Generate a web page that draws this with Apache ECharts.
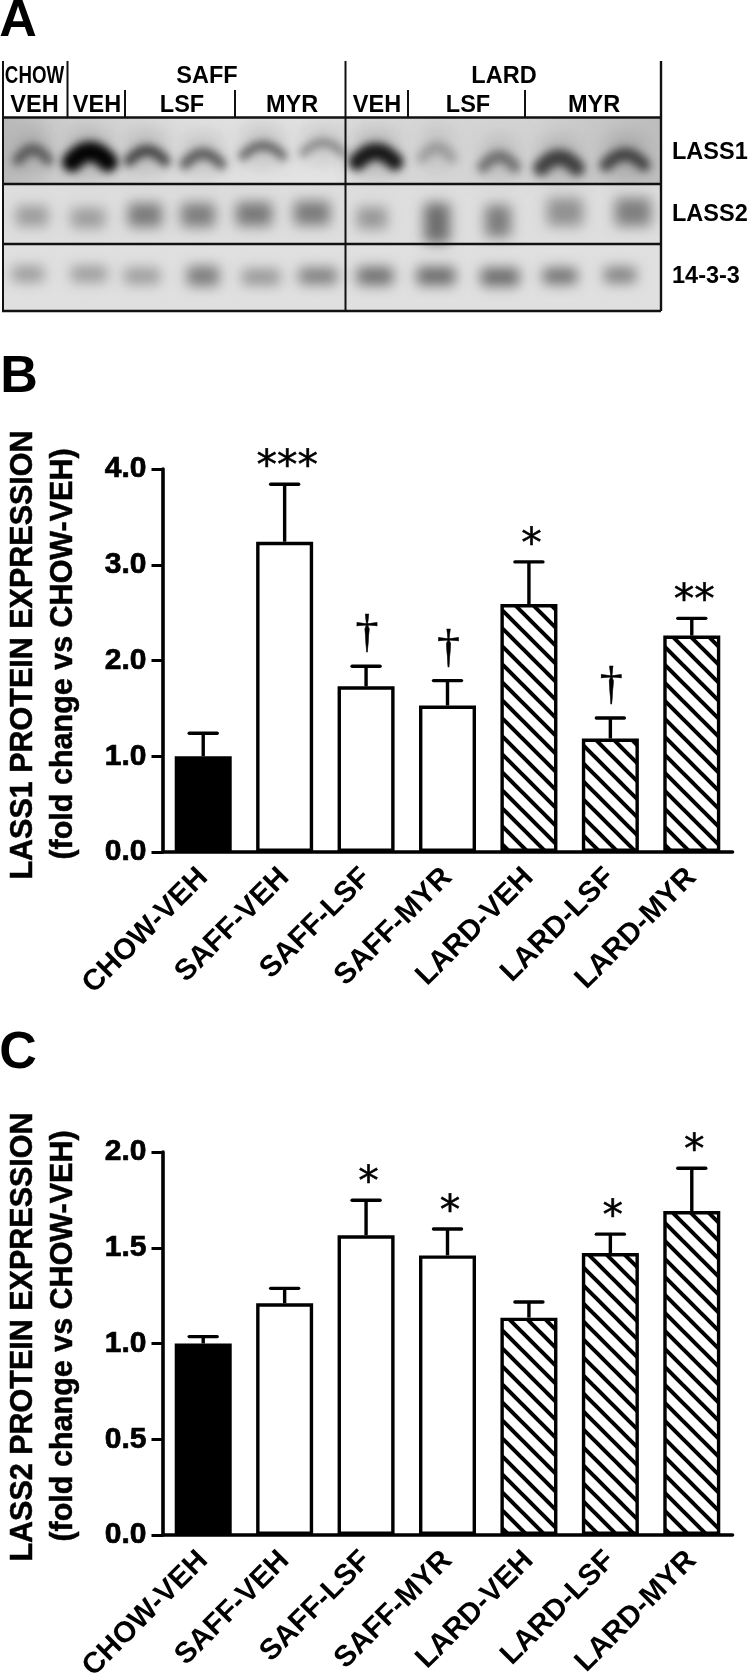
<!DOCTYPE html>
<html>
<head>
<meta charset="utf-8">
<style>html,body{margin:0;padding:0;background:#fff}#c{width:750px;height:1677px}</style>
<script src="https://cdn.jsdelivr.net/npm/echarts@6/dist/echarts.min.js"></script>
</head>
<body>
<div id="c"></div>
<script>
// ---------- chart data ----------
const categories = ['CHOW-VEH','SAFF-VEH','SAFF-LSF','SAFF-MYR','LARD-VEH','LARD-LSF','LARD-MYR'];
const lass1Means = [1.0,3.24,1.73,1.53,2.59,1.185,2.26];
const lass1Upper = [1.24,3.84,1.94,1.79,3.03,1.40,2.44];
const lass1Marks = ['','***','†','†','*','†','**'];
const lass2Means = [1.0,1.21,1.565,1.46,1.135,1.472,1.692];
const lass2Upper = [1.036,1.288,1.748,1.598,1.217,1.571,1.915];
const lass2Marks = ['','','*','*','','*','*'];
const fillKinds = ['solid','open','open','open','hatch','hatch','hatch'];
// band darkness read from the blot, one value per lane
const blotLass1 = [0.50,0.98,0.66,0.55,0.52,0.36,0.88,0.22,0.42,0.66,0.62];
const blotLass2 = [0.27,0.26,0.39,0.38,0.40,0.39,0.28,0.44,0.38,0.30,0.37];
const blot1433  = [0.27,0.27,0.27,0.39,0.29,0.39,0.44,0.46,0.46,0.44,0.37];

// ---------- blot layout (pixel space of the hidden blot grid) ----------
// LASS1 lanes: centre x, centre y, half width, stroke thickness
const L1 = [[33,153,15,11],[90,155,18,20],[147,154,18,11],[203,157,18,11],[263,149,20,9],[323,146,20,8],
            [376,155,19,17],[437,151,15,11],[499,160,16,12],[559,161,18,16],[625,158,19,13]];
// LASS2 and 14-3-3 lanes: centre x, centre y, half width, half height
const L2 = [[32,216,16,10],[88,218,17,10],[145,215,17,12],[198,215,17,12],[254,214,18,12],[312,213,18,12],
            [372,218,15,11],[437,223,13,20],[498,221,13,16],[565,212,18,14],[633,212,18,14]];
const L3 = [[28,274,16,8],[89,274,18,8],[142,276,18,8],[203,276,16,10],[261,277,19,8],[318,276,19,8],
            [375,276,18,9],[436,276,19,9],[500,277,19,9],[560,276,17,8],[620,275,16,8]];
const rowsBg = [[118,184],[184,244],[244,311]];
const OFF = 3000; // shapes are painted off-canvas so that only their soft shadow lands on the blot

const FONT = '"Liberation Sans", Arial, sans-serif';
function ink(d){return 'rgba(0,0,0,'+Math.min(d,1)+')';}

function hatchTile(){
  const s=18, c=document.createElement('canvas'); c.width=c.height=s;
  const g=c.getContext('2d'); g.fillStyle='#fff'; g.fillRect(0,0,s,s);
  g.strokeStyle='#000'; g.lineWidth=4;
  [-s,0,s].forEach(o=>{g.beginPath();g.moveTo(o-2,-2);g.lineTo(o+s+2,s+2);g.stroke();});
  return c;
}
const hatch = {image:hatchTile(),repeat:'repeat'};
function fillOf(k){return k==='solid'?'#000':k==='open'?'#fff':hatch;}

const chart = echarts.init(document.getElementById('c'),null,{renderer:'canvas',width:750,height:1677});

function px(api,x,y){return api.coord([x,y]);}
function softRect(x,y,w,h,d,blur){
  return {type:'rect',shape:{x:x-OFF,y:y,width:w,height:h,r:3},
    style:{fill:'#000',shadowBlur:blur,shadowColor:ink(d),shadowOffsetX:OFF}};
}

// ---------- blot series ----------
const rowGrad = new echarts.graphic.LinearGradient(0,0,1,0,[
  {offset:0,color:'#b8b8b8'},{offset:.08,color:'#cdcdcd'},{offset:.3,color:'#e2e2e2'},{offset:.5,color:'#e6e6e6'},
  {offset:.55,color:'#dadada'},{offset:.8,color:'#d4d4d4'},{offset:1,color:'#bebebe'}]);
function blotBackground(params,api){
  const i=api.value(0), r=rowsBg[i];
  const a=px(api,2,r[0]), b=px(api,661,r[1]);
  return {type:'rect',shape:{x:a[0],y:a[1],width:b[0]-a[0],height:b[1]-a[1]},
    style:{fill:i===0?rowGrad:(i===1?'#dedede':'#e0e0e0')}};
}
function bandLass1(params,api){
  const i=api.value(0), d=api.value(1), g=L1[i], c=px(api,g[0],g[1]);
  return {type:'group',children:[
    softRect(c[0]-g[2],c[1]-24,g[2]*2,42,0.08+d*0.10,20),
    {type:'bezierCurve',shape:{x1:c[0]-g[2]-OFF,y1:c[1]+7,x2:c[0]+g[2]-OFF,y2:c[1]+7,cpx1:c[0]-OFF,cpy1:c[1]-14},
     style:{fill:null,stroke:'#000',lineWidth:g[3],lineCap:'round',shadowBlur:8,shadowColor:ink(d),shadowOffsetX:OFF}}
  ]};
}
function softBand(table){
  return function(params,api){
    const i=api.value(0), d=api.value(1), g=table[i], c=px(api,g[0],g[1]);
    return softRect(c[0]-g[2],c[1]-g[3],g[2]*2,g[3]*2,d*1.15,13);
  };
}

// ---------- bar helpers ----------
function errorBars(){
  return function(params,api){
    const i=api.value(0), a=api.coord([i,api.value(1)]), b=api.coord([i,api.value(2)]);
    const ls={stroke:'#000',lineWidth:3.4,lineCap:'round'};
    return {type:'group',children:[
      {type:'line',shape:{x1:a[0],y1:a[1],x2:a[0],y2:b[1]},style:{stroke:'#000',lineWidth:3.4}},
      {type:'line',shape:{x1:a[0]-14,y1:b[1],x2:a[0]+14,y2:b[1]},style:ls}
    ]};
  };
}
function markers(marks){
  return function(params,api){
    const i=api.value(0), m=marks[i];
    if(!m) return null;
    const p=api.coord([i,api.value(1)]);
    const dag=m==='†';
    return {type:'text',x:p[0]+(dag?1:2.5),y:p[1]+(dag?-31:-16),
      style:{text:m,align:'center',verticalAlign:'middle',fill:'#000',
        stroke:'#000',lineWidth:0.5,
        font:dag?'46px "Liberation Serif", serif':'41px "DejaVu Sans", sans-serif'}};
  };
}
function barData(vals){
  return vals.map((v,i)=>({value:v,itemStyle:{color:fillOf(fillKinds[i])}}));
}
function grid(top){return {left:162.5,width:570,top:top,height:383,outerBoundsMode:'none'};}
function xAxis(idx){
  return {gridIndex:idx,type:'category',data:categories,z:5,
    axisLine:{lineStyle:{color:'#000',width:3.6}},axisTick:{alignWithLabel:true,length:11,lineStyle:{color:'#000',width:3}},
    axisLabel:{rotate:45,interval:0,margin:21,color:'#000',fontFamily:FONT,fontWeight:'bold',fontSize:29.5}};
}
function yAxis(idx,max,step){
  return {gridIndex:idx,type:'value',min:0,max:max,interval:step,splitLine:{show:false},z:5,
    axisLine:{show:true,lineStyle:{color:'#000',width:3.6}},axisTick:{show:true,length:11,lineStyle:{color:'#000',width:3}},
    axisLabel:{margin:16,color:'#000',fontFamily:FONT,fontWeight:'bold',fontSize:30,
      textBorderColor:'#000',textBorderWidth:0.7,formatter:v=>v.toFixed(1)}};
}
function panelSeries(idx,means,upper,marks){
  const eb=means.map((m,i)=>[i,m,upper[i]]);
  return [
    {type:'custom',xAxisIndex:idx,yAxisIndex:idx,renderItem:errorBars(),data:eb,z:1,clip:false,silent:true},
    {type:'bar',xAxisIndex:idx,yAxisIndex:idx,data:barData(means),barWidth:57,z:2,silent:true,
     itemStyle:{borderColor:'#000',borderWidth:3.4}},
    {type:'custom',xAxisIndex:idx,yAxisIndex:idx,renderItem:markers(marks),data:upper.map((u,i)=>[i,u]),z:3,clip:false,silent:true}
  ];
}

// ---------- frame and captions ----------
function vline(x,y1,y2,w){return {type:'line',z:20,shape:{x1:x,y1:y1,x2:x,y2:y2},style:{stroke:'#111',lineWidth:w||2}};}
function hline(y,w){return {type:'line',z:20,shape:{x1:2,y1:y,x2:661,y2:y},style:{stroke:'#111',lineWidth:w||2}};}
function mask(x,y,w,h){return {type:'rect',z:19,shape:{x:x,y:y,width:w,height:h},style:{fill:'#fff'}};}
function txt(s,x,y,size,opt){
  return Object.assign({type:'text',z:21,x:x,y:y,style:{text:s,fill:'#000',align:'center',verticalAlign:'middle',
    font:'bold '+size+'px '+FONT}},opt||{});
}
function side(s,y){return {type:'text',z:21,x:672,y:y,style:{text:s,fill:'#000',align:'left',verticalAlign:'middle',font:'bold 23.5px '+FONT}};}
function rot(s,x,y){
  return {type:'text',z:21,x:x,y:y,rotation:Math.PI/2,style:{text:s,fill:'#000',align:'center',verticalAlign:'middle',
    stroke:'#000',lineWidth:0.5,font:'bold 30.5px '+FONT}};
}
const graphics=[
  mask(0,50,750,67),mask(662,117,88,200),mask(0,312,750,30),mask(0,117,2,200),
  vline(3,61,311),vline(67.5,61,117),vline(125,90,117),vline(235,90,117),vline(345.5,61,311),
  vline(408,90,117),vline(525,90,117),vline(661,61,311,2.4),
  hline(117.5,2.4),hline(184,2.4),hline(244,2.4),hline(311,2.4),
  txt('CHOW',34.5,76,24,{scaleX:.78}),
  txt('SAFF',207,76.5,23.5),txt('LARD',504,76.5,23.5),
  txt('VEH',34.5,106,23.5),txt('VEH',97,106,23.5),txt('LSF',182,106,23.5),txt('MYR',292,106,23.5),
  txt('VEH',377,106,23.5),txt('LSF',468,106,23.5),txt('MYR',594,106,23.5),
  side('LASS1',153),side('LASS2',215),side('14-3-3',277),
  txt('A',18,22,52),txt('B',19,378,52),txt('C',18,1054,52),
  rot('LASS1 PROTEIN EXPRESSION',24,655),rot('(fold change vs CHOW-VEH)',64,654),
  rot('LASS2 PROTEIN EXPRESSION',24,1337),rot('(fold change vs CHOW-VEH)',64,1336)
];

const hiddenAxis=(m)=>({gridIndex:2,type:'value',min:0,max:m,show:false});
const laneIdx=a=>a.map((d,i)=>[i,d]);
chart.setOption({
  animation:false,
  backgroundColor:'#fff',
  grid:[grid(469),grid(1152),{left:0,top:0,width:750,height:1677,outerBoundsMode:'none'}],
  xAxis:[xAxis(0),xAxis(1),hiddenAxis(750)],
  yAxis:[yAxis(0,4,1),yAxis(1,2,0.5),Object.assign(hiddenAxis(1677),{inverse:true})],
  series:[
    {type:'custom',xAxisIndex:2,yAxisIndex:2,renderItem:blotBackground,data:[[0],[1],[2]],z:0,silent:true,clip:false,encode:{x:0}},
    {type:'custom',xAxisIndex:2,yAxisIndex:2,renderItem:bandLass1,data:laneIdx(blotLass1),z:1,silent:true,clip:false},
    {type:'custom',xAxisIndex:2,yAxisIndex:2,renderItem:softBand(L2),data:laneIdx(blotLass2),z:1,silent:true,clip:false},
    {type:'custom',xAxisIndex:2,yAxisIndex:2,renderItem:softBand(L3),data:laneIdx(blot1433),z:1,silent:true,clip:false},
    ...panelSeries(0,lass1Means,lass1Upper,lass1Marks),
    ...panelSeries(1,lass2Means,lass2Upper,lass2Marks)
  ],
  graphic:{elements:graphics}
});
</script>
</body>
</html>
